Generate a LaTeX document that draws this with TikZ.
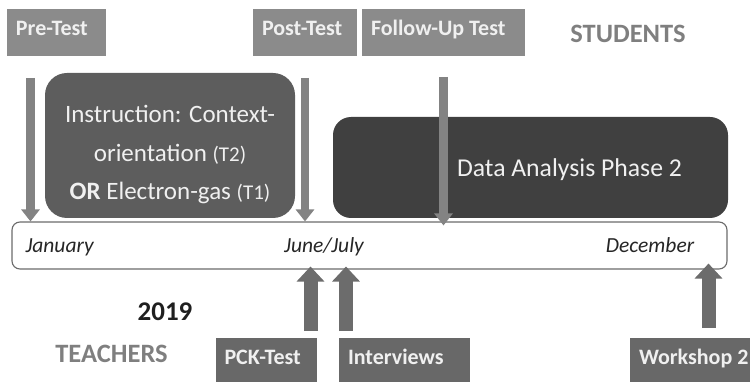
\documentclass[tikz,border=0pt]{standalone}
\usepackage{fontspec}
\setmainfont{Carlito}
\usetikzlibrary{arrows.meta}
\definecolor{hdr}{HTML}{8B8B8B}
\definecolor{ftr}{HTML}{686868}
\definecolor{instr}{HTML}{5D5D5D}
\definecolor{dataf}{HTML}{404040}
\definecolor{arrd}{HTML}{838383}
\definecolor{arru}{HTML}{6C6C6C}
\definecolor{lbl}{HTML}{7F7F7F}
\definecolor{boxtext}{HTML}{F0F0F0}
\newcommand\leftin[2]{\makebox[#1][l]{#2}}
\tikzset{
  tbox/.style={text=boxtext, font=\fontsize{22}{24}\selectfont\bfseries, inner xsep=9pt, inner ysep=0pt,
    minimum width=#1, text height=14pt},
  hdrbox/.style={tbox=#1, fill=hdr, minimum height=47pt, text depth=7pt},
  ftrbox/.style={tbox=#1, fill=ftr, minimum height=44pt, text depth=5pt},
  downarr/.style={draw=arrd, line width=8.5pt, -{Triangle[width=18pt,length=12pt]}},
  uparr/.style={draw=arru, line width=14pt, -{Triangle[width=27pt,length=15pt]}},
  role/.style={text=lbl, font=\fontsize{26.5}{30}\selectfont\bfseries, anchor=base},
  month/.style={font=\fontsize{21.5}{26}\selectfont\itshape, text=black!85, anchor=base},
}
\begin{document}
\begin{tikzpicture}[x=1pt,y=-1pt]
\useasboundingbox (0,0) rectangle (750,382);
% header boxes
\node[hdrbox=99pt] (pre) at (56.5,32.5) {\leftin{81pt}{Pre-Test}};
\node[hdrbox=104pt] (post) at (305,32.5) {\leftin{86pt}{Post-Test}};
\node[hdrbox=163pt] (follow) at (443.5,32.5) {\leftin{145pt}{Follow-Up Test}};
\node[role] (students) at (628,43) {STUDENTS};
% phases
\node[fill=instr, rounded corners=22pt, minimum width=250pt, minimum height=145pt, inner sep=0pt] (instr) at (170,145.5) {};
\node[text=boxtext, align=center, font=\fontsize{25}{38.5}\selectfont, anchor=base] (instrtext) at (170,200)
  {Instruction: Context-\\orientation {\fontsize{21}{24}\selectfont(T2)}\\\textbf{OR} Electron-gas {\fontsize{21}{24}\selectfont(T1)}};
\node[fill=dataf, rounded corners=18pt, minimum width=395pt, minimum height=101pt, inner sep=0pt] (data) at (530.5,167.5) {};
\node[text=boxtext, font=\fontsize{25.7}{30}\selectfont, anchor=base] (datatext) at (569.5,177) {Data Analysis Phase 2};
% timeline
\node[draw=black!58, fill=white, rounded corners=8pt, minimum width=715pt, minimum height=47pt, inner sep=0pt, line width=1.1pt] (tl) at (369.5,245.5) {};
\node[month, anchor=base west] (jan) at (22,253) {January};
\node[month] (jun) at (324,253) {June/July};
\node[month] (dec) at (650,253) {December};
% down arrows
\coordinate (pa) at (30.5,78);
\coordinate (pb) at (305,78);
\coordinate (pc) at (443.5,77);
\draw[downarr] (pa) -- (pa |- tl.north);
\draw[downarr] (pb) -- (pb |- tl.north);
\draw[downarr] (pc) -- ([yshift=-4pt]pc |- tl.north);
% bottom
\node[font=\fontsize{27}{30}\selectfont\bfseries, text=black!88, anchor=base] (year) at (165,320) {2019};
\node[role] (teachers) at (111.5,362) {TEACHERS};
\node[ftrbox=101pt] (pck) at (266,360) {\leftin{83pt}{PCK-Test}};
\node[ftrbox=131pt] (int) at (404.5,360) {\leftin{113pt}{Interviews}};
\node[ftrbox=120pt] (ws) at (690,360) {\leftin{102pt}{Workshop 2}};
\coordinate (ua) at (310.5,331);
\coordinate (ub) at (346,331);
\coordinate (uc) at (708.5,328);
\draw[uparr] (ua) -- ([yshift=3pt]ua |- tl.south);
\draw[uparr] (ub) -- ([yshift=3pt]ub |- tl.south);
\draw[uparr] (uc) -- ([yshift=6pt]uc |- tl.south);
\end{tikzpicture}
\end{document}
